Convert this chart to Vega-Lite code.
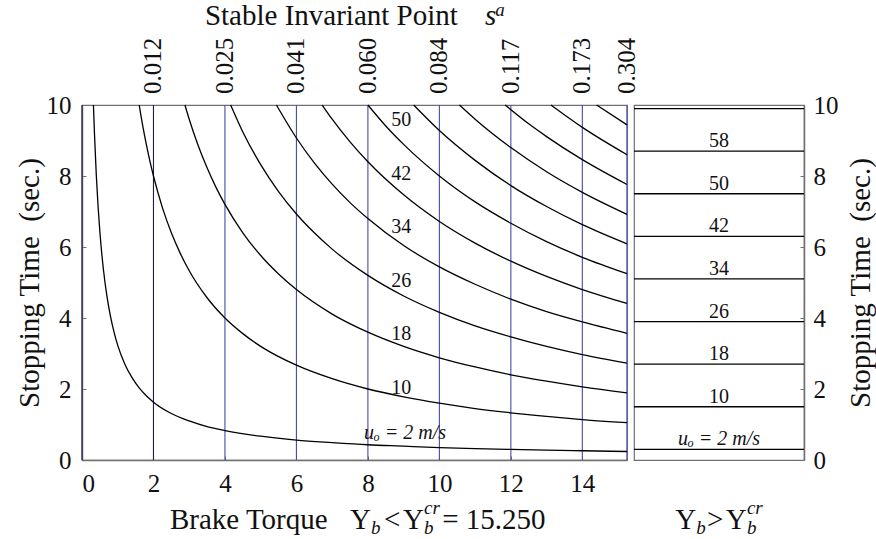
{
  "$schema": "https://vega.github.io/schema/vega-lite/v6.json",
  "background": "white",
  "padding": {"left": 14, "top": 0, "right": 0, "bottom": 0},
  "config": {
    "font": "Liberation Serif",
    "view": {"stroke": "#707070", "strokeWidth": 1.2},
    "axis": {
      "labelFont": "Liberation Serif", "labelFontSize": 25, "labelColor": "#111",
      "titleFont": "Liberation Serif", "titleFontSize": 29, "titleFontWeight": "normal", "titleColor": "#111",
      "domainColor": "#707070", "domainWidth": 1.5, "tickColor": "#707070", "tickSize": -4,
      "grid": false, "labelPadding": 15
    },
    "text": {"font": "Liberation Serif", "color": "#111"}
  },
  "datasets": {
    "curves": [
      {"u0":2,"torque":0.32,"time":10},{"u0":2,"torque":0.35,"time":9.17},{"u0":2,"torque":0.4,"time":8.03},{"u0":2,"torque":0.45,"time":7.14},{"u0":2,"torque":0.5,"time":6.43},{"u0":2,"torque":0.6,"time":5.36},{"u0":2,"torque":0.7,"time":4.6},{"u0":2,"torque":0.8,"time":4.03},{"u0":2,"torque":0.9,"time":3.59},{"u0":2,"torque":1,"time":3.23},{"u0":2,"torque":1.2,"time":2.7},{"u0":2,"torque":1.4,"time":2.32},{"u0":2,"torque":1.6,"time":2.03},{"u0":2,"torque":1.8,"time":1.81},{"u0":2,"torque":2,"time":1.63},{"u0":2,"torque":2.5,"time":1.31},{"u0":2,"torque":3,"time":1.1},{"u0":2,"torque":3.5,"time":0.94},{"u0":2,"torque":4,"time":0.83},{"u0":2,"torque":5,"time":0.67},{"u0":2,"torque":6,"time":0.56},{"u0":2,"torque":7,"time":0.49},{"u0":2,"torque":8,"time":0.43},{"u0":2,"torque":9,"time":0.39},{"u0":2,"torque":10,"time":0.35},{"u0":2,"torque":11,"time":0.32},{"u0":2,"torque":12,"time":0.3},{"u0":2,"torque":13,"time":0.28},{"u0":2,"torque":14,"time":0.26},{"u0":2,"torque":15.25,"time":0.24},
      {"u0":10,"torque":1.6,"time":10},{"u0":10,"torque":1.7,"time":9.41},{"u0":10,"torque":1.8,"time":8.89},{"u0":10,"torque":1.9,"time":8.42},{"u0":10,"torque":2,"time":8},{"u0":10,"torque":2.25,"time":7.11},{"u0":10,"torque":2.5,"time":6.4},{"u0":10,"torque":2.75,"time":5.82},{"u0":10,"torque":3,"time":5.33},{"u0":10,"torque":3.5,"time":4.57},{"u0":10,"torque":4,"time":4},{"u0":10,"torque":4.5,"time":3.56},{"u0":10,"torque":5,"time":3.2},{"u0":10,"torque":6,"time":2.67},{"u0":10,"torque":7,"time":2.29},{"u0":10,"torque":8,"time":2},{"u0":10,"torque":9,"time":1.78},{"u0":10,"torque":10,"time":1.6},{"u0":10,"torque":11,"time":1.45},{"u0":10,"torque":12,"time":1.33},{"u0":10,"torque":13,"time":1.23},{"u0":10,"torque":14,"time":1.14},{"u0":10,"torque":15.25,"time":1.05},
      {"u0":18,"torque":2.88,"time":10},{"u0":18,"torque":3,"time":9.6},{"u0":18,"torque":3.25,"time":8.86},{"u0":18,"torque":3.5,"time":8.23},{"u0":18,"torque":3.75,"time":7.68},{"u0":18,"torque":4,"time":7.2},{"u0":18,"torque":4.5,"time":6.4},{"u0":18,"torque":5,"time":5.76},{"u0":18,"torque":5.5,"time":5.24},{"u0":18,"torque":6,"time":4.8},{"u0":18,"torque":7,"time":4.11},{"u0":18,"torque":8,"time":3.6},{"u0":18,"torque":9,"time":3.2},{"u0":18,"torque":10,"time":2.88},{"u0":18,"torque":11,"time":2.62},{"u0":18,"torque":12,"time":2.4},{"u0":18,"torque":13,"time":2.22},{"u0":18,"torque":14,"time":2.06},{"u0":18,"torque":15.25,"time":1.89},
      {"u0":26,"torque":4.16,"time":10},{"u0":26,"torque":4.5,"time":9.24},{"u0":26,"torque":5,"time":8.32},{"u0":26,"torque":5.5,"time":7.56},{"u0":26,"torque":6,"time":6.93},{"u0":26,"torque":6.5,"time":6.4},{"u0":26,"torque":7,"time":5.94},{"u0":26,"torque":8,"time":5.2},{"u0":26,"torque":9,"time":4.62},{"u0":26,"torque":10,"time":4.16},{"u0":26,"torque":11,"time":3.78},{"u0":26,"torque":12,"time":3.47},{"u0":26,"torque":13,"time":3.2},{"u0":26,"torque":14,"time":2.97},{"u0":26,"torque":15.25,"time":2.73},
      {"u0":34,"torque":5.44,"time":10},{"u0":34,"torque":6,"time":9.07},{"u0":34,"torque":6.5,"time":8.37},{"u0":34,"torque":7,"time":7.77},{"u0":34,"torque":7.5,"time":7.25},{"u0":34,"torque":8,"time":6.8},{"u0":34,"torque":9,"time":6.04},{"u0":34,"torque":10,"time":5.44},{"u0":34,"torque":11,"time":4.95},{"u0":34,"torque":12,"time":4.53},{"u0":34,"torque":13,"time":4.18},{"u0":34,"torque":14,"time":3.89},{"u0":34,"torque":15.25,"time":3.57},
      {"u0":42,"torque":6.72,"time":10},{"u0":42,"torque":7,"time":9.6},{"u0":42,"torque":7.5,"time":8.96},{"u0":42,"torque":8,"time":8.4},{"u0":42,"torque":9,"time":7.47},{"u0":42,"torque":10,"time":6.72},{"u0":42,"torque":11,"time":6.11},{"u0":42,"torque":12,"time":5.6},{"u0":42,"torque":13,"time":5.17},{"u0":42,"torque":14,"time":4.8},{"u0":42,"torque":15.25,"time":4.41},
      {"u0":50,"torque":8,"time":10},{"u0":50,"torque":8.5,"time":9.41},{"u0":50,"torque":9,"time":8.89},{"u0":50,"torque":10,"time":8},{"u0":50,"torque":11,"time":7.27},{"u0":50,"torque":12,"time":6.67},{"u0":50,"torque":13,"time":6.15},{"u0":50,"torque":14,"time":5.71},{"u0":50,"torque":15.25,"time":5.25},
      {"u0":58,"torque":9.28,"time":10},{"u0":58,"torque":10,"time":9.28},{"u0":58,"torque":11,"time":8.44},{"u0":58,"torque":12,"time":7.73},{"u0":58,"torque":13,"time":7.14},{"u0":58,"torque":14,"time":6.63},{"u0":58,"torque":15.25,"time":6.09},
      {"u0":66,"torque":10.56,"time":10},{"u0":66,"torque":11,"time":9.6},{"u0":66,"torque":12,"time":8.8},{"u0":66,"torque":13,"time":8.12},{"u0":66,"torque":14,"time":7.54},{"u0":66,"torque":15.25,"time":6.92},
      {"u0":74,"torque":11.84,"time":10},{"u0":74,"torque":12.5,"time":9.47},{"u0":74,"torque":13,"time":9.11},{"u0":74,"torque":14,"time":8.46},{"u0":74,"torque":15.25,"time":7.76},
      {"u0":82,"torque":13.12,"time":10},{"u0":82,"torque":14,"time":9.37},{"u0":82,"torque":15.25,"time":8.6},
      {"u0":90,"torque":14.4,"time":10},{"u0":90,"torque":15.25,"time":9.44}
    ],
    "invariant": [
      {"torque":0},
      {"torque":2,"sa":"0.012"},{"torque":4,"sa":"0.025"},{"torque":6,"sa":"0.041"},{"torque":8,"sa":"0.060"},
      {"torque":10,"sa":"0.084"},{"torque":12,"sa":"0.117"},{"torque":14,"sa":"0.173"},{"torque":15.25,"sa":"0.304"}
    ],
    "curveLabels": [
      {"u0":2,"label":"uₒ = 2 m/s","torque":9.04,"time":0.76},
      {"u0":10,"label":"10","torque":8.93,"time":2.03},
      {"u0":18,"label":"18","torque":8.93,"time":3.55},
      {"u0":26,"label":"26","torque":8.93,"time":5.04},
      {"u0":34,"label":"34","torque":8.93,"time":6.56},
      {"u0":42,"label":"42","torque":8.93,"time":8.05},
      {"u0":50,"label":"50","torque":8.93,"time":9.57}
    ],
    "plateau": [
      {"u0":2,"time":0.3,"label":"uₒ = 2 m/s"},
      {"u0":10,"time":1.5,"label":"10"},
      {"u0":18,"time":2.7,"label":"18"},
      {"u0":26,"time":3.9,"label":"26"},
      {"u0":34,"time":5.1,"label":"34"},
      {"u0":42,"time":6.3,"label":"42"},
      {"u0":50,"time":7.5,"label":"50"},
      {"u0":58,"time":8.7,"label":"58"},
      {"u0":66,"time":9.9}
    ],
    "leftTitle": [
      {"role":"main","text":"Stable Invariant Point","x":3.44,"y":12.25},
      {"role":"var","text":"s","x":11.28,"y":12.25},
      {"role":"sup","text":"a","x":11.56,"y":12.51},
      {"role":"main","text":"Brake Torque","x":2.46,"y":-1.94},
      {"role":"main","text":"Υ","x":7.5,"y":-1.94},
      {"role":"sub","text":"b","x":8.09,"y":-2.08},
      {"role":"main","text":"<","x":8.45,"y":-1.94},
      {"role":"main","text":"Υ","x":8.98,"y":-1.94},
      {"role":"sub","text":"b","x":9.57,"y":-2.08},
      {"role":"sup","text":"cr","x":9.57,"y":-1.52},
      {"role":"main","text":"= 15.250","x":10.08,"y":-1.94}
    ],
    "rightTitle": [
      {"role":"main","text":"Υ","x":0.242,"y":-1.94},
      {"role":"sub","text":"b","x":0.366,"y":-2.08},
      {"role":"main","text":">","x":0.43,"y":-1.94},
      {"role":"main","text":"Υ","x":0.54,"y":-1.94},
      {"role":"sub","text":"b","x":0.664,"y":-2.08},
      {"role":"sup","text":"cr","x":0.664,"y":-1.52}
    ]
  },
  "hconcat": [
    {
      "width": 545,
      "height": 355,
      "layer": [
        {
          "data": {"name": "invariant"},
          "mark": {"type": "rule", "strokeWidth": 1.1},
          "encoding": {
            "x": {"field": "torque", "type": "quantitative",
                  "scale": {"domain": [0, 15.25], "nice": false, "zero": false},
                  "axis": {"orient": "bottom", "values": [0, 2, 4, 6, 8, 10, 12, 14], "title": null}},
            "color": {"condition": {"test": "datum.torque <= 2", "value": "#1e1e4a"}, "value": "#4a4aa8"}
          }
        },
        {
          "data": {"name": "curves"},
          "mark": {"type": "line", "color": "#000", "strokeWidth": 1.3, "interpolate": "monotone"},
          "encoding": {
            "x": {"field": "torque", "type": "quantitative"},
            "y": {"field": "time", "type": "quantitative",
                  "scale": {"domain": [0, 10], "nice": false},
                  "axis": {"values": [0, 2, 4, 6, 8, 10], "title": "Stopping Time\u2002(sec.)", "titlePadding": 2}},
            "detail": {"field": "u0", "type": "nominal"}
          }
        },
        {
          "data": {"name": "invariant"},
          "transform": [{"filter": {"field": "sa", "valid": true}}],
          "mark": {"type": "text", "angle": 270, "align": "left", "baseline": "middle", "dx": 11, "fontSize": 25},
          "encoding": {
            "x": {"field": "torque", "type": "quantitative"},
            "y": {"datum": 10},
            "text": {"field": "sa"}
          }
        },
        {
          "data": {"name": "curveLabels"},
          "transform": [{"filter": "datum.u0 > 2"}],
          "mark": {"type": "text", "fontSize": 20, "baseline": "middle"},
          "encoding": {
            "x": {"field": "torque", "type": "quantitative"},
            "y": {"field": "time", "type": "quantitative"},
            "text": {"field": "label"}
          }
        },
        {
          "data": {"name": "curveLabels"},
          "transform": [{"filter": "datum.u0 == 2"}],
          "mark": {"type": "text", "fontSize": 20, "baseline": "middle", "fontStyle": "italic"},
          "encoding": {
            "x": {"field": "torque", "type": "quantitative"},
            "y": {"field": "time", "type": "quantitative"},
            "text": {"field": "label"}
          }
        },
        {
          "data": {"name": "leftTitle"},
          "transform": [{"filter": "datum.role == 'main'"}],
          "mark": {"type": "text", "align": "left", "baseline": "alphabetic", "fontSize": 29},
          "encoding": {
            "x": {"field": "x", "type": "quantitative"},
            "y": {"field": "y", "type": "quantitative"},
            "text": {"field": "text"}
          }
        },
        {
          "data": {"name": "leftTitle"},
          "transform": [{"filter": "datum.role == 'var'"}],
          "mark": {"type": "text", "align": "left", "baseline": "alphabetic", "fontSize": 29, "fontStyle": "italic"},
          "encoding": {
            "x": {"field": "x", "type": "quantitative"},
            "y": {"field": "y", "type": "quantitative"},
            "text": {"field": "text"}
          }
        },
        {
          "data": {"name": "leftTitle"},
          "transform": [{"filter": "datum.role == 'sub' || datum.role == 'sup'"}],
          "mark": {"type": "text", "align": "left", "baseline": "alphabetic", "fontSize": 19, "fontStyle": "italic"},
          "encoding": {
            "x": {"field": "x", "type": "quantitative"},
            "y": {"field": "y", "type": "quantitative"},
            "text": {"field": "text"}
          }
        }
      ]
    },
    {
      "width": 170,
      "height": 355,
      "layer": [
        {
          "data": {"name": "plateau"},
          "mark": {"type": "rule", "color": "#000", "strokeWidth": 1.3},
          "encoding": {
            "y": {"field": "time", "type": "quantitative",
                  "scale": {"domain": [0, 10], "nice": false},
                  "axis": {"orient": "right", "values": [0, 2, 4, 6, 8, 10], "labelPadding": 13,
                           "title": "Stopping Time\u2002(sec.)", "titleAngle": 270, "titleBaseline": "top", "titlePadding": 8}}
          }
        },
        {
          "data": {"name": "plateau"},
          "transform": [{"filter": {"field": "label", "valid": true}}, {"filter": "datum.u0 > 2"}],
          "mark": {"type": "text", "fontSize": 20, "baseline": "alphabetic", "dy": -4},
          "encoding": {
            "x": {"datum": 0.5, "scale": {"domain": [0, 1]}, "axis": null},
            "y": {"field": "time", "type": "quantitative"},
            "text": {"field": "label"}
          }
        },
        {
          "data": {"name": "plateau"},
          "transform": [{"filter": "datum.u0 == 2"}],
          "mark": {"type": "text", "fontSize": 20, "baseline": "alphabetic", "dy": -4, "fontStyle": "italic"},
          "encoding": {
            "x": {"datum": 0.5},
            "y": {"field": "time", "type": "quantitative"},
            "text": {"field": "label"}
          }
        },
        {
          "data": {"name": "rightTitle"},
          "transform": [{"filter": "datum.role == 'main'"}],
          "mark": {"type": "text", "align": "left", "baseline": "alphabetic", "fontSize": 29},
          "encoding": {
            "x": {"field": "x", "type": "quantitative"},
            "y": {"field": "y", "type": "quantitative"},
            "text": {"field": "text"}
          }
        },
        {
          "data": {"name": "rightTitle"},
          "transform": [{"filter": "datum.role != 'main'"}],
          "mark": {"type": "text", "align": "left", "baseline": "alphabetic", "fontSize": 19, "fontStyle": "italic"},
          "encoding": {
            "x": {"field": "x", "type": "quantitative"},
            "y": {"field": "y", "type": "quantitative"},
            "text": {"field": "text"}
          }
        }
      ]
    }
  ],
  "spacing": 7,
  "bounds": "flush"
}
